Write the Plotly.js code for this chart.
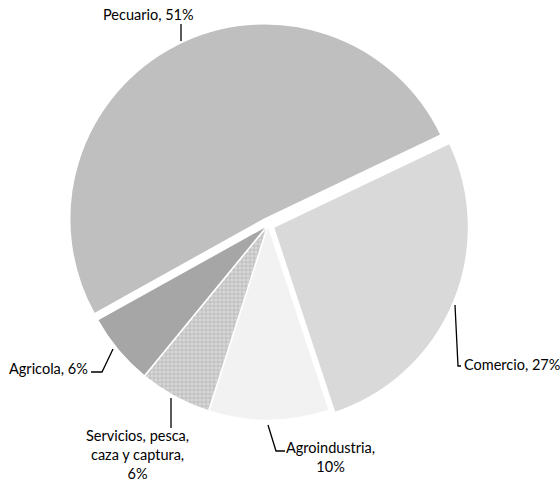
<!DOCTYPE html>
<html>
<head>
<meta charset="utf-8">
<script src="https://cdn.plot.ly/plotly-3.0.1.min.js"></script>
<style>html,body{margin:0;padding:0;background:#fff;}#chart{width:560px;height:482px;}</style>
</head>
<body>
<div id="chart"></div>
<script>
// ---- data ----
const categories = ['Comercio', 'Agroindustria', 'Servicios, pesca, caza y captura', 'Agricola', 'Pecuario'];
const values = [27, 10, 6, 6, 51];
const sliceColors = ['#d9d9d9', '#f2f2f2', '#d8d8d8', '#a6a6a6', '#bfbfbf'];
const pulls = [0.03, 0, 0, 0, 0.035];
// comma indices after which the label wraps
const labelBreaks = [[], [0], [1, 2], [], []];

// ---- layout geometry (pixels) ----
const W = 560, H = 482;
const M = {l: 66, r: 90, t: 23, b: 55};
const pw = W - M.l - M.r, ph = H - M.t - M.b;
const px = x => (x - M.l) / pw;
const py = y => 1 - (y - M.t) / ph;

// label anchor positions & leader lines (pixels)
const labelPos = [
  {x: 462, y: 364, xa: 'left', ya: 'middle', align: 'left'},
  {x: 330, y: 457, xa: 'center', ya: 'middle', align: 'center'},
  {x: 137, y: 425, xa: 'center', ya: 'top', align: 'center'},
  {x: 90, y: 368, xa: 'right', ya: 'middle', align: 'right'},
  {x: 148, y: 15, xa: 'center', ya: 'middle', align: 'center'}
];
const leaders = [
  [[455, 305], [458, 366], [461, 366]],
  [[268, 425], [276, 451], [285, 451]],
  [[171, 398], [171, 428]],
  [[113, 349], [102, 372], [91, 372]],
  [[181, 24], [181, 41]]
];

function labelText(i) {
  const parts = (categories[i] + ', ' + values[i] + '%').split(', ');
  let s = parts[0];
  for (let k = 1; k < parts.length; k++) {
    s += (labelBreaks[i].includes(k - 1) ? ',<br>' : ', ') + parts[k];
  }
  return s;
}

const annotations = categories.map((c, i) => ({
  xref: 'paper', yref: 'paper',
  x: px(labelPos[i].x), y: py(labelPos[i].y),
  xanchor: labelPos[i].xa, yanchor: labelPos[i].ya, align: labelPos[i].align,
  text: labelText(i), showarrow: false,
  font: {family: 'Lato, "Open Sans", sans-serif', size: 14.5, color: '#000'}
}));

const shapes = leaders.map(pts => ({
  type: 'path', xref: 'paper', yref: 'paper',
  path: pts.map((p, k) => (k ? 'L' : 'M') + px(p[0]) + ',' + py(p[1])).join(' '),
  line: {color: '#000', width: 1.3}
}));

const trace = {
  type: 'pie',
  labels: categories,
  values: values,
  sort: false,
  direction: 'clockwise',
  rotation: 64.5,
  pull: pulls,
  textinfo: 'none',
  hoverinfo: 'skip',
  marker: {
    colors: sliceColors,
    line: {color: '#ffffff', width: 1.5},
    pattern: {
      shape: ['', '', '+', '', ''],
      fgcolor: '#9c9c9c',
      bgcolor: '#d8d8d8',
      size: 4,
      solidity: 0.4,
      fillmode: 'overlay'
    }
  },
  showlegend: false
};

Plotly.newPlot('chart', [trace], {
  width: W, height: H,
  margin: M,
  paper_bgcolor: '#fff',
  plot_bgcolor: '#fff',
  showlegend: false,
  annotations: annotations,
  shapes: shapes
}, {displayModeBar: false, staticPlot: true});
</script>
</body>
</html>
